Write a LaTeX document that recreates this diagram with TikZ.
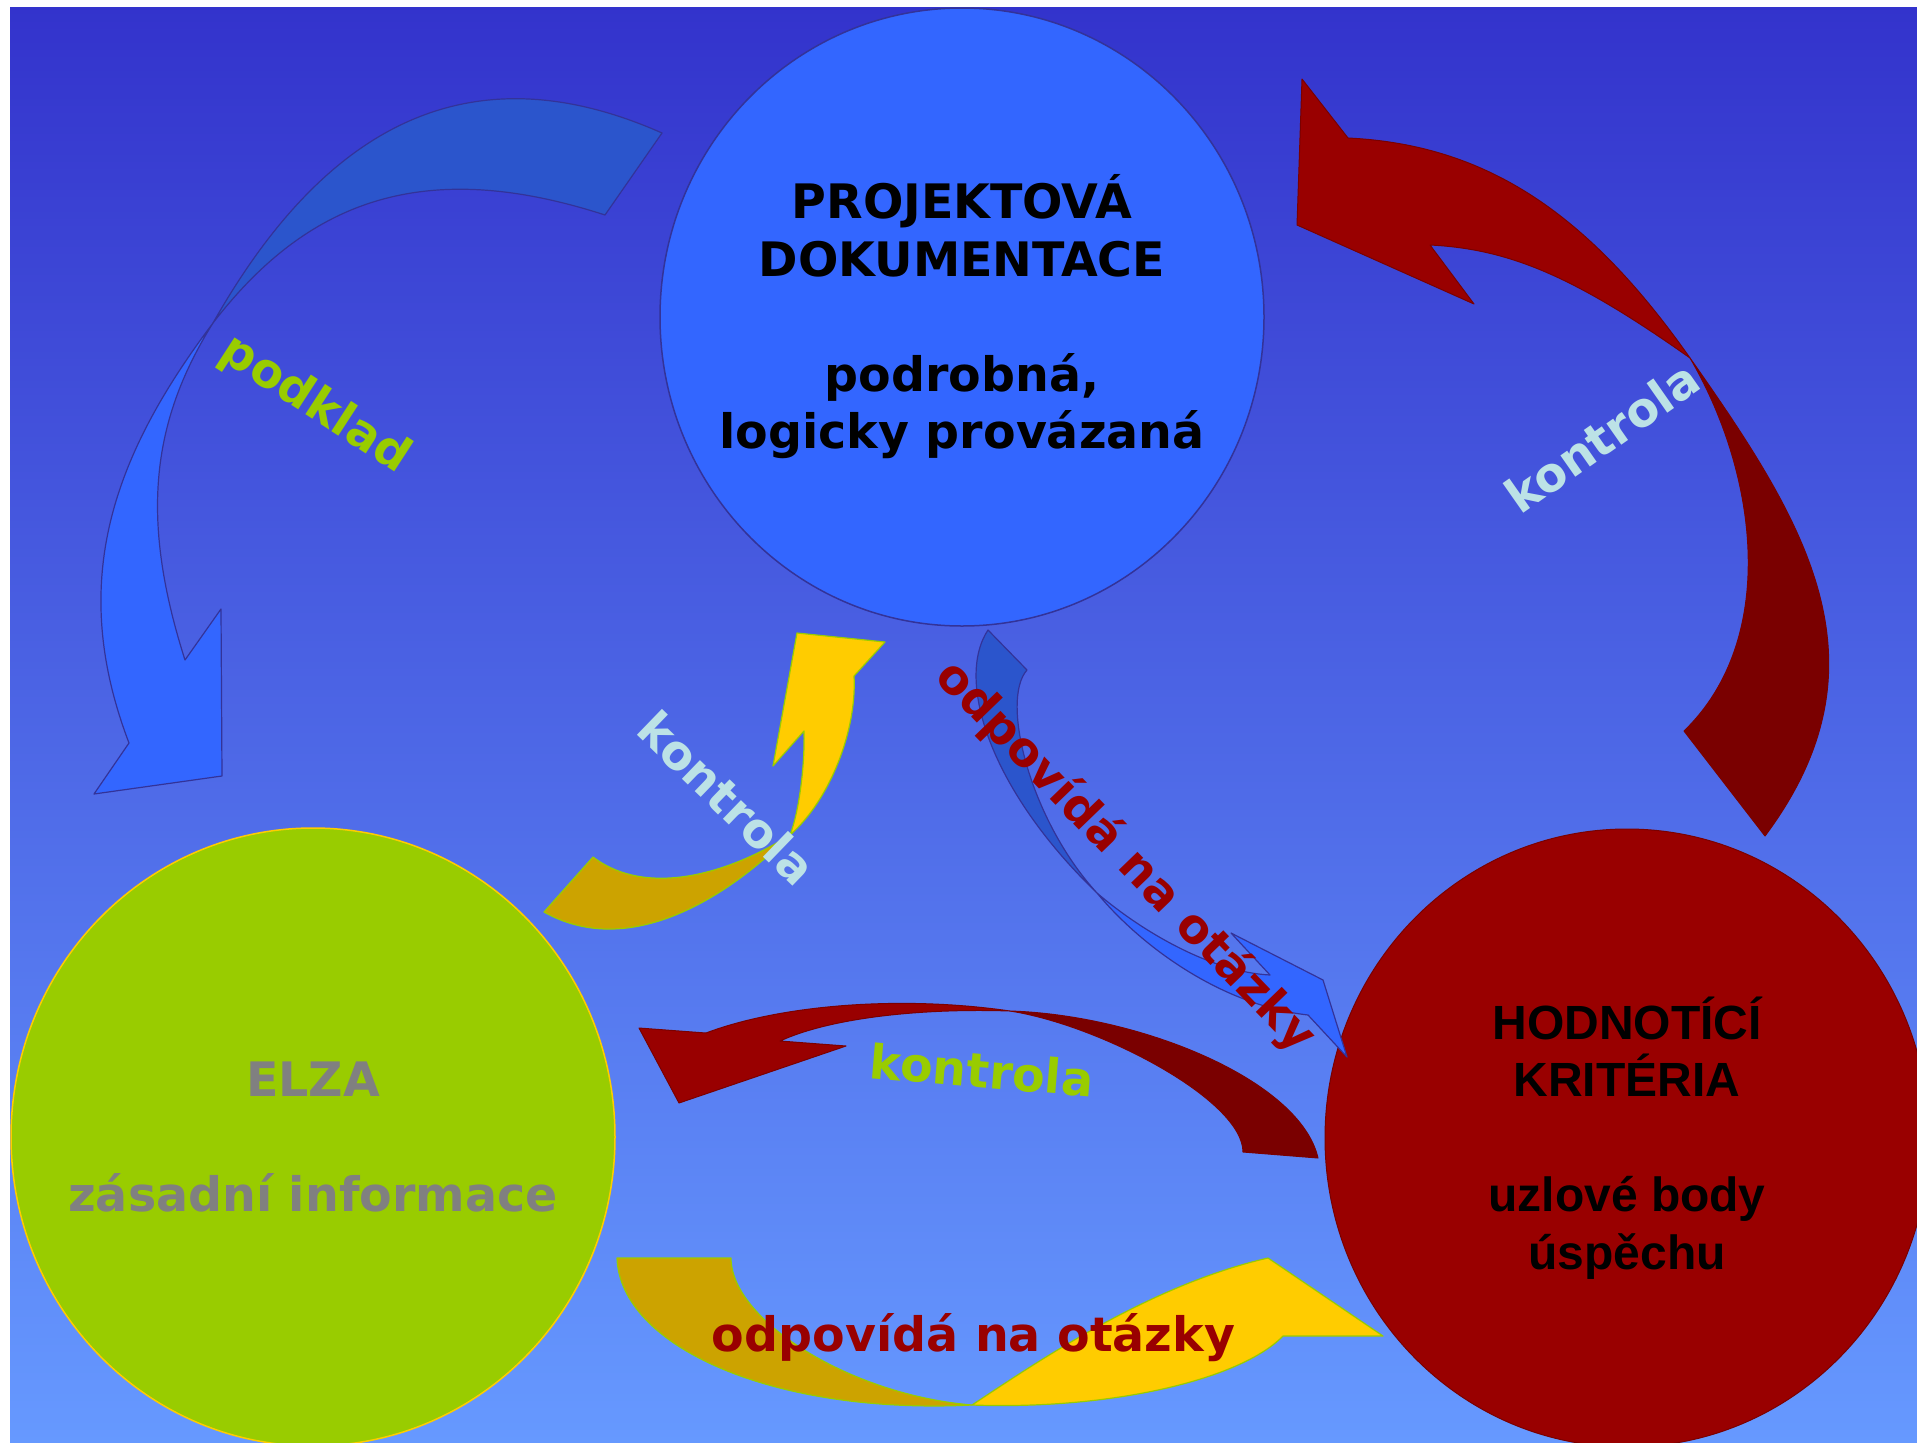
\documentclass[tikz,border=0pt]{standalone}
\usepackage{fontspec}
\setmainfont{DejaVu Sans}
\newfontfamily\arialfont{Liberation Sans}
\usetikzlibrary{shapes.geometric}
\definecolor{bgtop}{RGB}{51,51,204}
\definecolor{bgbot}{RGB}{102,153,255}
\definecolor{docblue}{RGB}{51,102,255}
\definecolor{darkblue}{RGB}{43,85,204}
\definecolor{navy}{RGB}{51,51,153}
\definecolor{elzagreen}{RGB}{153,204,0}
\definecolor{gold}{RGB}{255,204,0}
\definecolor{darkgold}{RGB}{204,163,0}
\definecolor{crimson}{RGB}{153,0,0}
\definecolor{maroon}{RGB}{122,0,0}
\definecolor{lightcyan}{RGB}{188,226,230}
\definecolor{elzagray}{RGB}{128,128,128}
\tikzset{
  lbl/.style={font=\bfseries\fontsize{47.5}{57.5}\selectfont, inner sep=0pt},
  bubble/.style={ellipse, minimum width=604pt, minimum height=618pt, inner sep=0pt},
  bubbletext/.style={align=center, inner sep=0pt, font=\bfseries\fontsize{47.5}{57.5}\selectfont},
  bluepart/.style={draw=navy, line width=1.2pt, line join=round},
  redpart/.style={draw=maroon, line width=1pt, line join=round},
  goldpart/.style={draw=elzagreen, line width=1.2pt, line join=round}
}
\begin{document}
\begin{tikzpicture}[x=1pt,y=-1pt]
\useasboundingbox (0,0) rectangle (1917,1443);
\fill[white] (0,0) rectangle (1917,1443);
\begin{scope}
\clip (10,7) rectangle (1917,1443);
\shade[top color=bgtop, bottom color=bgbot] (10,7) rectangle (1917,1443);

% circles
\node[bubble, fill=docblue, draw=navy, line width=1.5pt] (doc) at (962,317) {};
\node[bubble, fill=elzagreen, draw=gold, line width=1.5pt] (elza) at (313,1137) {};
\node[bubble, fill=crimson, draw=maroon, line width=1pt] (krit) at (1627,1138) {};
\node[bubbletext] (doctext) at (doc.center)
  {PROJEKTOVÁ\\DOKUMENTACE\\~\\podrobná,\\logicky provázaná};
\node[bubbletext, text=elzagray] (elzatext) at (elza.center)
  {ELZA\\~\\zásadní informace};
\node[bubbletext, font=\arialfont\bfseries\fontsize{48}{57.5}\selectfont] (krittext) at (krit.center)
  {HODNOTÍCÍ\\KRITÉRIA\\~\\uzlové body\\úspěchu};

% podklad arrow (blue, left)
\path[bluepart, fill=darkblue]
 (662,133) .. controls (450,39) and (311,150) .. (213,323)
 .. controls (307,201) and (423,156) .. (605,215) -- cycle;
\path[bluepart, fill=docblue]
 (213,323) .. controls (109,461) and (69,585.5) .. (129,743)
 -- (94,794) -- (222,776) -- (221,609) -- (185,660)
 .. controls (141,522) and (149.5,424.5) .. (213,323) -- cycle;

% kontrola arrow (red, upper right)
\path[redpart, fill=crimson]
 (1348,138) .. controls (1484,144.6) and (1586.4,210.6) .. (1690,358)
 .. controls (1574,276) and (1509,249) .. (1430,245)
 -- (1474,304) -- (1297,225) -- (1302,79) -- cycle;
\path[redpart, fill=maroon]
 (1690,358) .. controls (1805.5,522.5) and (1894,663) .. (1765,836)
 -- (1684,731) .. controls (1779,639) and (1758,474) .. (1690,358) -- cycle;

% kontrola arrow (yellow, middle left)
\path[goldpart, fill=gold]
 (854,676) .. controls (857,730) and (830,800) .. (790,835)
 .. controls (798,815) and (805,770) .. (804,731)
 -- (773,766) -- (797,633) -- (885,642) -- cycle;
\path[goldpart, fill=darkgold]
 (790,835) .. controls (720,905) and (624.5,957.5) .. (544,912)
 -- (593,857) .. controls (650,900) and (735,870) .. (790,835) -- cycle;

% odpovida arrow (blue, diagonal)
\path[bluepart, fill=darkblue]
 (988,630) .. controls (955,680) and (990,790) .. (1097,893)
 .. controls (1030,820) and (1000,700) .. (1027,670) -- cycle;
\path[bluepart, fill=docblue]
 (1097,893) .. controls (1140,930) and (1210,972) .. (1270,975)
 -- (1231,933) -- (1323,980) -- (1347,1057) -- (1308,1015)
 .. controls (1220,1005) and (1140,945) .. (1097,893) -- cycle;

% kontrola arrow (red, bottom)
\path[redpart, fill=crimson]
 (706,1033) .. controls (780,1005) and (900,995) .. (1010,1011)
 .. controls (920,1008) and (830,1018) .. (780,1041)
 -- (846,1046) -- (679,1103) -- (639,1028) -- cycle;
\path[redpart, fill=maroon]
 (1010,1011) .. controls (1140,1015) and (1300,1080) .. (1318,1158)
 -- (1243,1152) .. controls (1243,1100) and (1100,1025) .. (1010,1011) -- cycle;

% odpovida arrow (yellow, bottom)
\path[goldpart, fill=darkgold]
 (617,1258) .. controls (620,1345) and (770,1415) .. (972,1405)
 .. controls (850,1395) and (731,1320) .. (731,1258) -- cycle;
\path[goldpart, fill=gold]
 (972,1405) .. controls (1040,1360) and (1150,1285) .. (1268,1258)
 -- (1383,1336) -- (1283,1336)
 .. controls (1240,1380) and (1110,1410) .. (972,1405) -- cycle;

% labels
\node[lbl, text=elzagreen, rotate=-33] (lpodklad) at (315,405) {podklad};
\node[lbl, text=lightcyan, rotate=35] (lkontrolaA) at (1602,437) {kontrola};
\node[lbl, text=lightcyan, rotate=-44] (lkontrolaB) at (727,798) {kontrola};
\node[lbl, text=crimson, rotate=-46] (lodpovA) at (1125,857) {odpovídá na otázky};
\node[lbl, text=elzagreen, rotate=-4.8] (lkontrolaC) at (982,1070) {kontrola};
\node[lbl, text=crimson, anchor=base] (lodpovB) at (973.5,1351) {odpovídá na otázky};
\end{scope}
\end{tikzpicture}
\end{document}
